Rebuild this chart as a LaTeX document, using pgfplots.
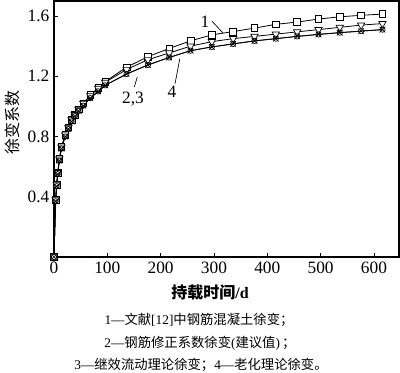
\documentclass[border=0pt]{standalone}
\usepackage{pgfplots}
\pgfplotsset{compat=1.18}
\usepackage{fontspec}
\setmainfont{Liberation Serif}
\newfontfamily\cjk{Noto Sans CJK SC}
\begin{document}
\begin{tikzpicture}
\path[use as bounding box] (-40.5pt,-86.25pt) rectangle (259.5pt,192.75pt);
\begin{axis}[
  scale only axis, width=258.75pt, height=192pt,
  xmin=0, xmax=647, ymin=0, ymax=1.7,
  xtick={0,100,200,300,400,500,600},
  ytick={0.4,0.8,1.2,1.6},
  yticklabel style={/pgf/number format/.cd,fixed,fixed zerofill,precision=1},
  tick align=inside, xtick pos=bottom, ytick pos=left,
  major tick length=3pt,
  axis line style={line width=0.9pt},
  tick style={line width=0.6pt, black},
  ticklabel style={font=\fontsize{13}{14}\selectfont},
  /pgf/number format/assume math mode=true,
  clip=false,
]
% curve 1 (squares)
\addplot[black, line width=0.6pt, mark=square*, mark size=2.5pt, mark options={solid, fill=white, draw=black, line width=0.5pt}] coordinates {
(0,0) (3,0.38) (5,0.48) (7,0.56) (10,0.65) (14,0.73) (21,0.81) (27,0.86) (33,0.91) (39,0.945) (46,0.98) (55,1.02) (68,1.075) (83,1.125) (96,1.165)
(136,1.26) (176,1.33) (216,1.385) (256,1.435) (296,1.475) (336,1.497) (376,1.52) (416,1.545) (456,1.56) (496,1.58) (536,1.595) (576,1.605) (616,1.613)};
% curve 2 (triangles down)
\addplot[black, line width=0.6pt, mark=triangle*, mark size=3.2pt, mark options={solid, fill=white, draw=black, line width=0.5pt, rotate=180}] coordinates {
(0,0) (3,0.38) (5,0.48) (7,0.56) (10,0.65) (14,0.73) (21,0.81) (27,0.86) (33,0.91) (39,0.945) (46,0.98) (55,1.02) (68,1.07) (83,1.12) (96,1.16)
(136,1.245) (176,1.31) (216,1.355) (256,1.40) (296,1.43) (336,1.45) (376,1.465) (416,1.48) (456,1.495) (496,1.51) (536,1.525) (576,1.54) (616,1.55)};
% curve 3 (circles)
\addplot[black, line width=0.6pt, mark=o, mark size=2pt, mark options={solid, draw=black, line width=0.5pt}] coordinates {
(0,0) (3,0.37) (5,0.47) (7,0.55) (10,0.64) (14,0.72) (21,0.80) (27,0.85) (33,0.90) (39,0.935) (46,0.97) (55,1.005) (68,1.055) (83,1.10) (96,1.14)
(136,1.215) (176,1.275) (216,1.325) (256,1.37) (296,1.395) (336,1.415) (376,1.435) (416,1.45) (456,1.465) (496,1.478) (536,1.49) (576,1.50) (616,1.51)};
% curve 4 (crosses)
\addplot[black, line width=0.6pt, mark=x, mark size=3pt, mark options={solid, draw=black, line width=0.5pt}] coordinates {
(0,0) (3,0.37) (5,0.47) (7,0.55) (10,0.64) (14,0.72) (21,0.80) (27,0.85) (33,0.90) (39,0.935) (46,0.97) (55,1.005) (68,1.055) (83,1.10) (96,1.14)
(136,1.215) (176,1.275) (216,1.325) (256,1.37) (296,1.395) (336,1.415) (376,1.435) (416,1.45) (456,1.465) (496,1.478) (536,1.49) (576,1.50) (616,1.51)};
% annotations
\draw[line width=0.5pt] (axis cs:296,1.567) -- (axis cs:317,1.487);
\node[font=\fontsize{13}{14}\selectfont] at (axis cs:283,1.56) {1};
\draw[line width=0.5pt] (axis cs:150.6,1.129) -- (axis cs:156.2,1.195);
\node[font=\fontsize{13}{14}\selectfont] at (axis cs:148,1.05) {2,3};
\draw[line width=0.5pt] (axis cs:227,1.151) -- (axis cs:236,1.318);
\node[font=\fontsize{13}{14}\selectfont] at (axis cs:221,1.10) {4};
\end{axis}
\node[rotate=90, font=\cjk\fontsize{12}{13}\selectfont] at (-31.5pt,101pt) {徐变系数};
\node[font=\fontsize{12}{13}\selectfont] at (117pt,-27pt) {{\cjk\bfseries 持载时间}\textbf{/d}};
\node[font=\fontsize{10}{11}\selectfont] at (108.75pt,-47.25pt) {1—{\cjk 文献}[12]{\cjk 中钢筋混凝土徐变；}};
\node[font=\fontsize{10}{11}\selectfont] at (109.5pt,-64.5pt) {2—{\cjk 钢筋修正系数徐变}({\cjk 建议值})\,{\cjk ；}};
\node[font=\fontsize{10}{11}\selectfont] at (110.25pt,-81pt) {3—{\cjk 继效流动理论徐变；}4—{\cjk 老化理论徐变。}};
\end{tikzpicture}
\end{document}
